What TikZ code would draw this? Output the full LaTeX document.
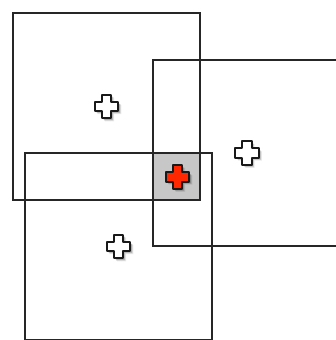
\documentclass[tikz,border=0pt]{standalone}
\tikzset{
  boxline/.style={draw=black!85, line width=1.7pt},
  interfill/.style={fill=black!22},
  crossshape/.pic={
    \foreach \s/\o in {3.0/0.08,2.3/0.12,1.6/0.16}{
      \fill[black, opacity=\o, shift={(\s,\s)}]
        (-4.6,-11.8) -- (4.6,-11.8) -- (4.6,-4.6) -- (11.8,-4.6) -- (11.8,4.6) -- (4.6,4.6)
        -- (4.6,11.8) -- (-4.6,11.8) -- (-4.6,4.6) -- (-11.8,4.6) -- (-11.8,-4.6) -- (-4.6,-4.6) -- cycle;
    }
    \path[pic actions, line width=2.1pt, draw=black!90, line join=round]
      (-4.6,-11.8) -- (4.6,-11.8) -- (4.6,-4.6) -- (11.8,-4.6) -- (11.8,4.6) -- (4.6,4.6)
      -- (4.6,11.8) -- (-4.6,11.8) -- (-4.6,4.6) -- (-11.8,4.6) -- (-11.8,-4.6) -- (-4.6,-4.6) -- cycle;
  }
}
\begin{document}
\begin{tikzpicture}[x=1pt, y=-1pt]
  \useasboundingbox (0,0) rectangle (336,340);
  \clip (0,0) rectangle (336,340);
  \fill[white] (0,0) rectangle (336,340);
  % intersection
  \path[interfill] (153,153) rectangle (200,200);
  % rectangles
  \draw[boxline] (13,13) rectangle (200,200);
  \draw[boxline] (153,60) rectangle (340,246);
  \draw[boxline] (25,153) rectangle (212,340);
  % crosses
  \pic[fill=white] at (106.5,106.5) {crossshape};
  \pic[fill=white] at (247,153) {crossshape};
  \pic[fill=white] at (118.5,246.5) {crossshape};
  \pic[fill={rgb,255:red,255;green,40;blue,0}] at (177.5,177) {crossshape};
\end{tikzpicture}
\end{document}
